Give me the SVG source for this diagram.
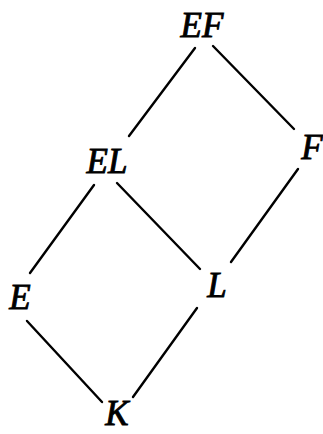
<svg xmlns="http://www.w3.org/2000/svg" width="323" height="434" viewBox="0 0 323 434">
<style>
.lbl{font-family:"Liberation Serif","Times New Roman",serif;font-style:italic;font-size:35px;fill:#000;text-anchor:middle;stroke:#000;stroke-width:0.9px}
.edge{stroke:#000;stroke-width:2.4;stroke-linecap:round;fill:none}
</style>
<rect width="323" height="434" fill="#fff"/>
<g id="connectors">
<line class="edge" x1="195" y1="48" x2="129" y2="136"/>
<line class="edge" x1="213" y1="46" x2="294" y2="129"/>
<line class="edge" x1="94" y1="185" x2="30" y2="273"/>
<line class="edge" x1="117" y1="183" x2="200" y2="269"/>
<line class="edge" x1="298" y1="169" x2="231" y2="262"/>
<line class="edge" x1="27" y1="321" x2="102" y2="402"/>
<line class="edge" x1="197" y1="308" x2="133" y2="397"/>
</g>
<g id="node-EF"><text class="lbl" x="202" y="37">EF</text></g>
<g id="node-EL"><text class="lbl" x="107" y="173">EL</text></g>
<g id="node-F"><text class="lbl" x="312" y="159">F</text></g>
<g id="node-E"><text class="lbl" x="20" y="309">E</text></g>
<g id="node-L"><text class="lbl" x="217" y="297">L</text></g>
<g id="node-K"><text class="lbl" x="117" y="425" font-size="32">K</text></g>
</svg>
